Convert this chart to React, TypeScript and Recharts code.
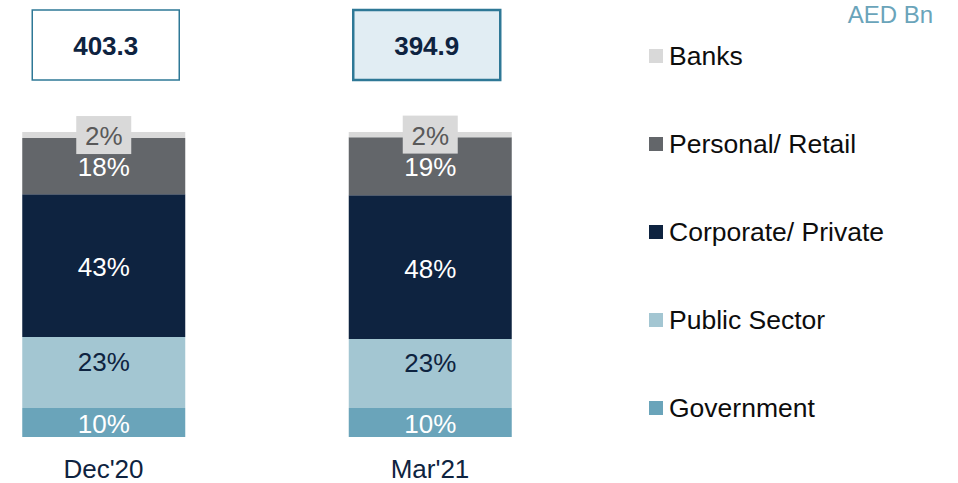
import React from 'react';
import { BarChart, Bar, XAxis, YAxis, LabelList, Legend } from 'recharts';

const categories = ["Dec'20", "Mar'21"];
const totals = ['403.3', '394.9'];

// segment shares as drawn (bottom to top)
const government = [9.5, 9.5];
const publicSector = [23.3, 22.6];
const corporate = [46.8, 47.2];
const personal = [18.4, 19.0];
const banks = [2.0, 1.7];

// printed labels
const governmentLabels = ['10%', '10%'];
const publicLabels = ['23%', '23%'];
const corporateLabels = ['43%', '48%'];
const personalLabels = ['18%', '19%'];
const banksLabels = ['2%', '2%'];

const FONT = '"Liberation Sans", Arial, sans-serif';
const NAVY = '#0e2340';

const series = [
  { key: 'government', name: 'Government', color: '#6aa4ba', text: '#ffffff', labels: governmentLabels, dy: 1.5 },
  { key: 'publicSector', name: 'Public Sector', color: '#a3c6d2', text: NAVY, labels: publicLabels, dy: -10.5 },
  { key: 'corporate', name: 'Corporate/ Private', color: NAVY, text: '#ffffff', labels: corporateLabels, dy: 1 },
  { key: 'personal', name: 'Personal/ Retail', color: '#63666a', text: '#ffffff', labels: personalLabels, dy: 0.5 },
  { key: 'banks', name: 'Banks', color: '#d9d9d9', text: '#595959', labels: banksLabels, dy: 1 },
];

const data = categories.map((name, i) => ({
  x: i,
  name,
  government: government[i],
  publicSector: publicSector[i],
  corporate: corporate[i],
  personal: personal[i],
  banks: banks[i],
}));

const segLabel = (s: any) => (p: any) => {
  const x = Number(p.x), y = Number(p.y), w = Number(p.width), h = Number(p.height);
  const cx = x + w / 2;
  const cy = y + h / 2 + s.dy;
  const txt = s.labels[p.index];
  return (
    <g key={`${s.key}-${p.index}`}>
      {s.key === 'banks' && (
        <rect x={cx - 27.5} y={y + h / 2 - 19} width={55} height={38} fill="#d9d9d9" />
      )}
      <text x={cx} y={cy + 9.4} textAnchor="middle" fontSize={26} fontFamily={FONT} fill={s.text}>
        {txt}
      </text>
    </g>
  );
};

const boxShift = [2, -3.5];

const totalBox = (p: any) => {
  const x = Number(p.x), w = Number(p.width);
  const cx = x + w / 2 + boxShift[p.index];
  const hi = p.index === 1;
  return (
    <g key={`total-${p.index}`}>
      <rect
        x={cx - 73.5}
        y={10}
        width={147}
        height={70}
        fill={hi ? '#e1edf3' : '#ffffff'}
        stroke="#2e7896"
        strokeWidth={hi ? 2.5 : 1.5}
      />
      <text x={cx} y={55} textAnchor="middle" fontSize={26} fontWeight="bold" fontFamily={FONT} fill={NAVY}>
        {totals[p.index]}
      </text>
    </g>
  );
};

const CategoryTick = (p: any) => (
  <text x={p.x} y={Number(p.y) + 41} textAnchor="middle" fontSize={26} fontFamily={FONT} fill={NAVY}>
    {categories[p.payload.value]}
  </text>
);

const LegendBox = () => {
  const rows = [...series].reverse();
  return (
    <svg width={318} height={440}>
      <text x={293} y={23} textAnchor="end" fontSize={24} fontFamily={FONT} fill="#6aa4ba">
        AED Bn
      </text>
      {rows.map((s, i) => (
        <g key={s.key}>
          <rect x={9} y={49 + i * 88} width={14} height={14} fill={s.color} />
          <text x={29} y={65 + i * 88} fontSize={26.5} fontFamily={FONT} fill="#0d0d0d">
            {s.name}
          </text>
        </g>
      ))}
    </svg>
  );
};

const App = () => {
  return (
    <div style={{ position: 'absolute', left: 0, top: 0, background: '#ffffff' }}>
      <BarChart
        width={958}
        height={483}
        data={data}
        margin={{ top: 132, right: 358, left: 0, bottom: 0 }}
      >
        <XAxis
          type="number"
          dataKey="x"
          domain={[-0.317, 1.5207]}
          ticks={[0, 1]}
          height={46}
          axisLine={false}
          tickLine={false}
          tickSize={0}
          tickMargin={0}
          tick={<CategoryTick />}
        />
        <YAxis hide type="number" domain={[0, 100]} />
        <Legend
          layout="vertical"
          align="center"
          verticalAlign="middle"
          content={<LegendBox />}
          wrapperStyle={{ left: 640, top: 0, width: 318, height: 440 }}
        />
        {series.map((s) => (
          <Bar
            key={s.key}
            dataKey={s.key}
            name={s.name}
            stackId="a"
            fill={s.color}
            barSize={163}
            isAnimationActive={false}
          >
            <LabelList dataKey={s.key} content={segLabel(s)} />
            {s.key === 'banks' && <LabelList dataKey={s.key} content={totalBox} />}
          </Bar>
        ))}
      </BarChart>
    </div>
  );
};

export default App;
